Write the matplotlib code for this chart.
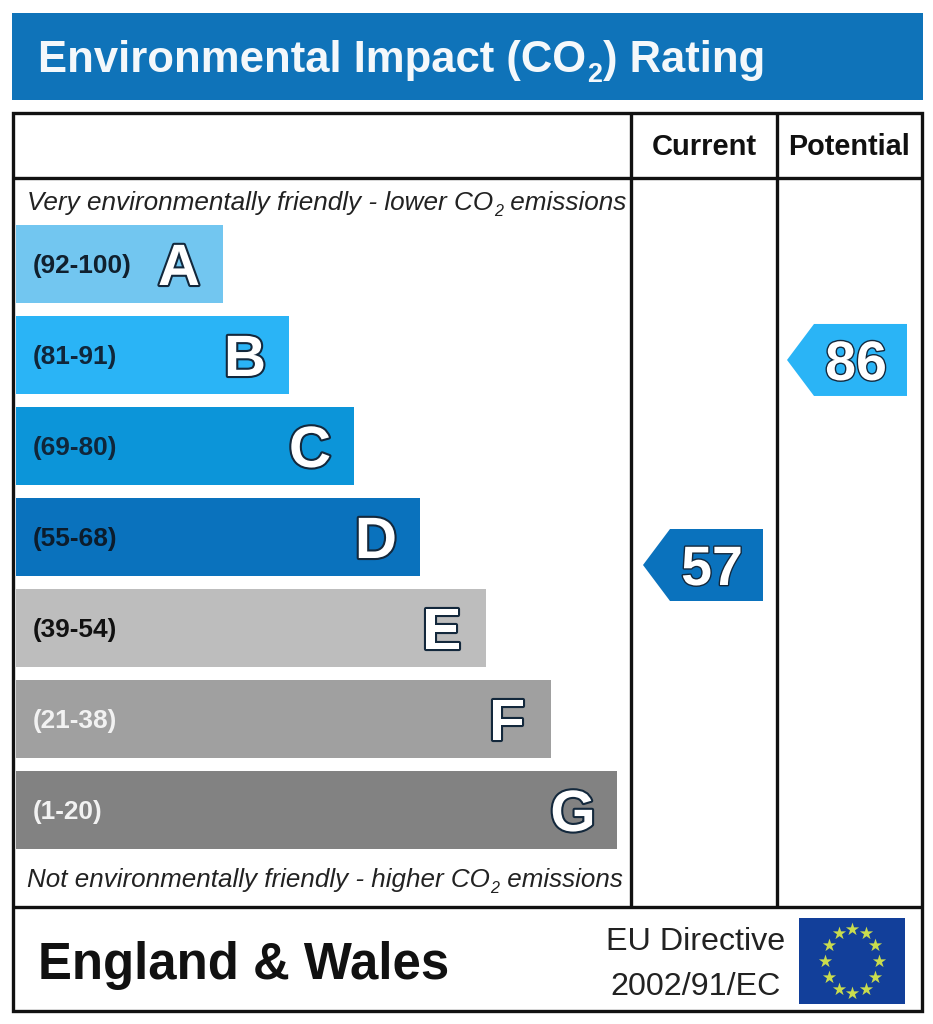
import matplotlib
matplotlib.use('Agg')
import matplotlib.pyplot as plt
import matplotlib.patheffects as pe
import numpy as np
from matplotlib.patches import Polygon, Rectangle

# --- DATA ---
BAND_LETTERS = ['A', 'B', 'C', 'D', 'E', 'F', 'G']
BAND_RANGES = ['(92-100)', '(81-91)', '(69-80)', '(55-68)', '(39-54)', '(21-38)', '(1-20)']
BAND_LENGTHS = [207, 273, 338, 404, 470, 535, 601]
BAND_COLORS = ['#72c6f0', '#2ab4f6', '#0c95d9', '#0a72bd', '#bdbdbd', '#a0a0a0', '#828282']
RANGE_COLORS = ['#10202e', '#10263a', '#10263a', '#0c1c2c', '#111111', '#f2f2f2', '#f2f2f2']
CURRENT_SCORE = 57
POTENTIAL_SCORE = 86
CURRENT_COLOR = '#0a72bd'
POTENTIAL_COLOR = '#2ab4f6'

# --- STYLE ---
FONT = 'Liberation Sans'
INK = '#111111'
HEADER_BLUE = '#0f73b9'
FLAG_BLUE = '#123f9a'
STAR_COLOR = '#c9dc4e'
OUTLINE = '#13283c'
LINE_W = 2.4

plt.rcParams['font.family'] = FONT

fig = plt.figure(figsize=(9.33, 10.24), dpi=100)
ax = fig.add_axes([0, 0, 1, 1])
ax.set_xlim(0, 933)
ax.set_ylim(1024, 0)
ax.axis('off')
renderer = fig.canvas.get_renderer()


def run_text(x, y, pieces, size, color=INK, **kw):
    # pieces: (string, is_subscript), drawn one after the other on a baseline
    for s, is_sub in pieces:
        fs = size * 0.62 if is_sub else size
        dy = size * 0.33 if is_sub else 0
        t = ax.text(x, y + dy, s, fontsize=fs, color=color, ha='left', va='baseline', **kw)
        x += t.get_window_extent(renderer).width + size * 0.03


def score_y(score):
    return 565 - (score - CURRENT_SCORE) * 7.07


def score_arrow(score, tip_x, color):
    y = score_y(score)
    pts = [(tip_x, y), (tip_x + 27, y - 36), (tip_x + 120, y - 36), (tip_x + 120, y + 36), (tip_x + 27, y + 36)]
    ax.add_patch(Polygon(pts, closed=True, facecolor=color, edgecolor='none', zorder=3))
    ax.text(tip_x + 69, y + 20, str(score), fontsize=40, fontweight='bold', color='white', ha='center',
            va='baseline', zorder=4, path_effects=[pe.withStroke(linewidth=2, foreground=OUTLINE)])


# header
ax.add_patch(Rectangle((12, 13), 911, 87, facecolor=HEADER_BLUE, edgecolor='none'))
run_text(38, 72, [('Environmental Impact (CO', False), ('2', True), (') Rating', False)], 31.4,
         color='#f4f8fb', fontweight='bold')

# table lines
ax.add_patch(Rectangle((13, 113), 908.5, 898, facecolor='none', edgecolor=INK, linewidth=LINE_W, zorder=5))
ax.plot([13, 921], [178, 178], color=INK, lw=LINE_W, solid_capstyle='butt', zorder=5)
ax.plot([13, 921], [907, 907], color=INK, lw=LINE_W, solid_capstyle='butt', zorder=5)
ax.plot([631, 631], [113, 907], color=INK, lw=LINE_W, solid_capstyle='butt', zorder=5)
ax.plot([777, 777], [113, 907], color=INK, lw=LINE_W, solid_capstyle='butt', zorder=5)

ax.text(704.5, 155, 'Current', fontsize=21, fontweight='bold', color=INK, ha='center', va='baseline')
ax.text(849, 155, 'Potential', fontsize=20.8, fontweight='bold', color=INK, ha='center', va='baseline')

run_text(27, 210, [('Very environmentally friendly - lower CO', False), ('2', True), (' emissions', False)], 18.8,
         color='#222222', fontstyle='italic')
run_text(27, 887, [('Not environmentally friendly - higher CO', False), ('2', True), (' emissions', False)], 18.7,
         color='#222222', fontstyle='italic')

# bands
y_pos = 264 + 91 * np.arange(len(BAND_LENGTHS))
ax.barh(y_pos, BAND_LENGTHS, left=16, height=78, color=BAND_COLORS, zorder=2)
for y, length, letter, rng, rng_color in zip(y_pos, BAND_LENGTHS, BAND_LETTERS, BAND_RANGES, RANGE_COLORS):
    ax.text(33, y + 9, rng, fontsize=18.9, fontweight='bold', color=rng_color, ha='left', va='baseline', zorder=3)
    ax.text(16 + length - 44, y + 21, letter, fontsize=42, fontweight='bold', color='white', ha='center',
            va='baseline', zorder=3, path_effects=[pe.withStroke(linewidth=3, foreground=OUTLINE)])

score_arrow(CURRENT_SCORE, 643, CURRENT_COLOR)
score_arrow(POTENTIAL_SCORE, 787, POTENTIAL_COLOR)

# footer
ax.text(38, 979, 'England & Wales', fontsize=36.6, fontweight='bold', color=INK, ha='left', va='baseline')
ax.text(695.5, 950, 'EU Directive', fontsize=23.2, color='#222222', ha='center', va='baseline')
ax.text(695.5, 995, '2002/91/EC', fontsize=23.2, color='#222222', ha='center', va='baseline')

# flag
ax.add_patch(Rectangle((799, 918), 106, 86, facecolor=FLAG_BLUE, edgecolor='none'))
angles = np.deg2rad(np.arange(0, 360, 30))
ax.scatter(852 + 27 * np.cos(angles), 961 + 32 * np.sin(angles), marker='*', s=100, color=STAR_COLOR,
           linewidths=0, zorder=4)

fig.savefig('out.png', dpi=100)
